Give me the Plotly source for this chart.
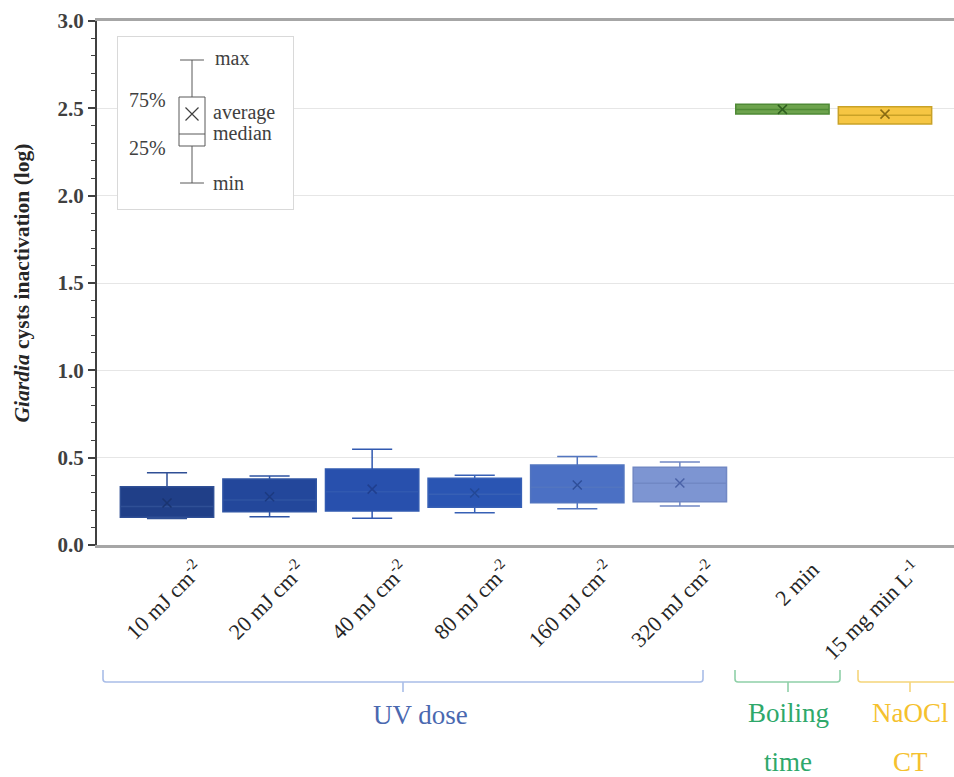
import plotly.graph_objects as go

# ---- data -------------------------------------------------------------
categories = [
    "10 mJ cm<sup>-2</sup>", "20 mJ cm<sup>-2</sup>", "40 mJ cm<sup>-2</sup>",
    "80 mJ cm<sup>-2</sup>", "160 mJ cm<sup>-2</sup>", "320 mJ cm<sup>-2</sup>",
    "2 min", "15 mg min L<sup>-1</sup>",
]
lower_whisker = [0.152, 0.162, 0.153, 0.185, 0.208, 0.223, 2.467, 2.410]
q1_values     = [0.159, 0.190, 0.195, 0.216, 0.242, 0.248, 2.467, 2.410]
median_values = [0.220, 0.258, 0.305, 0.290, 0.330, 0.353, 2.494, 2.460]
q3_values     = [0.334, 0.378, 0.435, 0.382, 0.458, 0.445, 2.523, 2.509]
upper_whisker = [0.414, 0.395, 0.548, 0.399, 0.506, 0.475, 2.523, 2.509]
mean_values   = [0.240, 0.276, 0.320, 0.298, 0.343, 0.355, 2.494, 2.467]

y_ticks = [0.0, 0.5, 1.0, 1.5, 2.0, 2.5, 3.0]

# treatment groups shown under the category labels
group_lines = [["UV dose"], ["Boiling", "time"], ["NaOCl", "CT"]]

# values for the explanatory key box (arbitrary units)
key_stats = {"min": 26, "q1": 63, "median": 75, "mean": 95, "q3": 112, "max": 149}
key_labels = ["max", "75%", "average", "median", "25%", "min"]

# ---- styling ----------------------------------------------------------
fill_colors = ["#203f88", "#23479b", "#2850ad", "#2a55b3", "#4b70c4", "#7d95d2",
               "#6da34d", "#f6c643"]
line_colors = ["#2f4f95", "#2f54a3", "#3159b0", "#3760b5", "#5275c0", "#7188c4",
               "#4f8a36", "#c9a227"]
mean_colors = ["#1a3470", "#1c3a80", "#203f8f", "#234896", "#2f4f9a", "#4a62a8",
               "#2f5f1f", "#8a6c12"]
group_colors = ["#4a68b0", "#2ea86a", "#f5c12e"]
bracket_colors = ["#a9bde8", "#8fd0a8", "#f5d57a"]

FONT = "Liberation Serif, Times New Roman, serif"
W, H = 954, 777
L, R, T, B = 97, 954, 21, 545   # plot area in pixels
KEY_X = (-74, 101)              # key panel extent (key-axis units)
KEY_Y = (0, 172)


def px_x(p):
    return (p - L) / (R - L)


def px_y(p):
    return (B - p) / (B - T)


fig = go.Figure()

for i, cat in enumerate(categories):
    fig.add_trace(go.Box(
        x=[i], q1=[q1_values[i]], median=[median_values[i]], q3=[q3_values[i]],
        lowerfence=[lower_whisker[i]], upperfence=[upper_whisker[i]],
        width=0.91, whiskerwidth=0.43, boxpoints=False,
        fillcolor=fill_colors[i], line=dict(color=line_colors[i], width=1.5),
        name=cat, showlegend=False, hoverinfo="skip",
    ))
    fig.add_trace(go.Scatter(
        x=[i], y=[mean_values[i]], mode="markers",
        marker=dict(symbol="x-thin", size=9,
                    line=dict(width=1.5, color=mean_colors[i])),
        showlegend=False, hoverinfo="skip",
    ))

# white panel behind the key (bar layer sits under the box layer)
fig.add_trace(go.Bar(
    x=[(KEY_X[0] + KEY_X[1]) / 2], y=[KEY_Y[1] - KEY_Y[0]], base=[KEY_Y[0]],
    width=[KEY_X[1] - KEY_X[0]], marker=dict(color="white", line=dict(width=0)),
    xaxis="x2", yaxis="y2", showlegend=False, hoverinfo="skip",
))
# key box explaining the box elements
fig.add_trace(go.Box(
    x=[0], q1=[key_stats["q1"]], median=[key_stats["median"]], q3=[key_stats["q3"]],
    lowerfence=[key_stats["min"]], upperfence=[key_stats["max"]],
    width=26, whiskerwidth=0.92, boxpoints=False,
    fillcolor="white", line=dict(color="#595959", width=1),
    xaxis="x2", yaxis="y2", showlegend=False, hoverinfo="skip",
))
fig.add_trace(go.Scatter(
    x=[0], y=[key_stats["mean"]], mode="markers",
    marker=dict(symbol="x-thin", size=13, line=dict(width=1.2, color="#404040")),
    xaxis="x2", yaxis="y2", showlegend=False, hoverinfo="skip",
))

key_pos = {
    "max": (21, key_stats["max"] + 2, "left"),
    "75%": (-24, 109, "right"),
    "average": (19, 97, "left"),
    "median": (19, 76, "left"),
    "25%": (-24, 61, "right"),
    "min": (19, key_stats["min"], "left"),
}
annotations = []
for lab in key_labels:
    kx, ky, anc = key_pos[lab]
    annotations.append(dict(
        x=kx, y=ky, xref="x2", yref="y2", text=lab, showarrow=False,
        xanchor=anc, yanchor="middle",
        font=dict(family=FONT, size=20, color="#404040"),
    ))

# group brackets under the category axis
brackets = [
    dict(left=103, right=703, tick=403, text_x=420),
    dict(left=735, right=840, tick=788, text_x=788),
    dict(left=858, right=1010, tick=910, text_x=910),
]
shapes = []
line_y = [713, 762]
for g, br in enumerate(brackets):
    path = (f"M {px_x(br['left'])},{px_y(670)} L {px_x(br['left'])},{px_y(679)} "
            f"Q {px_x(br['left'])},{px_y(682)} {px_x(br['left'] + 3)},{px_y(682)} "
            f"L {px_x(br['right'] - 3)},{px_y(682)} "
            f"Q {px_x(br['right'])},{px_y(682)} {px_x(br['right'])},{px_y(679)} "
            f"L {px_x(br['right'])},{px_y(670)} "
            f"M {px_x(br['tick'])},{px_y(682)} L {px_x(br['tick'])},{px_y(692)}")
    shapes.append(dict(type="path", xref="paper", yref="paper", path=path,
                       line=dict(color=bracket_colors[g], width=1.6)))
    for k, txt in enumerate(group_lines[g]):
        yy = 715 if g == 0 else line_y[k]
        annotations.append(dict(
            x=px_x(br["text_x"]), y=px_y(yy), xref="paper", yref="paper",
            text=txt, showarrow=False, xanchor="center", yanchor="middle",
            font=dict(family=FONT, size=27, color=group_colors[g]),
        ))

n = len(categories)
fig.update_layout(
    width=W, height=H, autosize=False,
    margin=dict(l=L, r=W - R, t=T, b=H - B, pad=0),
    paper_bgcolor="white", plot_bgcolor="white",
    showlegend=False, boxmode="overlay", barmode="overlay",
    shapes=shapes, annotations=annotations,
    xaxis=dict(
        range=[(L - 167) / 102.57, (R - 167) / 102.57],
        tickvals=list(range(n)), ticktext=categories,
        tickangle=-45, ticklabelshift=30, ticklabelstandoff=0,
        tickfont=dict(family=FONT, size=22, color="#262626"),
        showgrid=False, zeroline=False, ticks="",
        showline=True, linecolor="#a6a6a6", linewidth=3, mirror=True,
    ),
    yaxis=dict(
        range=[0, 3], tickvals=y_ticks, tickformat=".1f",
        tickfont=dict(family=FONT, size=21, color="#404040", weight="bold"),
        ticks="outside", ticklen=7, tickcolor="#404040", tickwidth=1.5,
        minor=dict(dtick=0.1, ticks="outside", ticklen=4, tickcolor="#404040",
                   tickwidth=1, showgrid=False),
        showgrid=True, gridcolor="#e6e6e6", gridwidth=1, zeroline=False,
        showline=True, linecolor="#404040", linewidth=2,
        title=dict(text="<i>Giardia</i> cysts inactivation (log)",
                   font=dict(family=FONT, size=21.5, color="#262626", weight="bold"),
                   standoff=22),
    ),
    xaxis2=dict(
        domain=[px_x(118), px_x(293)], anchor="y2", range=list(KEY_X),
        showgrid=False, zeroline=False, showticklabels=False, ticks="",
        showline=True, mirror=True, linecolor="#d9d9d9", linewidth=1,
    ),
    yaxis2=dict(
        domain=[px_y(209), px_y(37)], anchor="x2", range=list(KEY_Y),
        showgrid=False, zeroline=False, showticklabels=False, ticks="",
        showline=True, mirror=True, linecolor="#d9d9d9", linewidth=1,
    ),
)

fig.write_html("out.html")
